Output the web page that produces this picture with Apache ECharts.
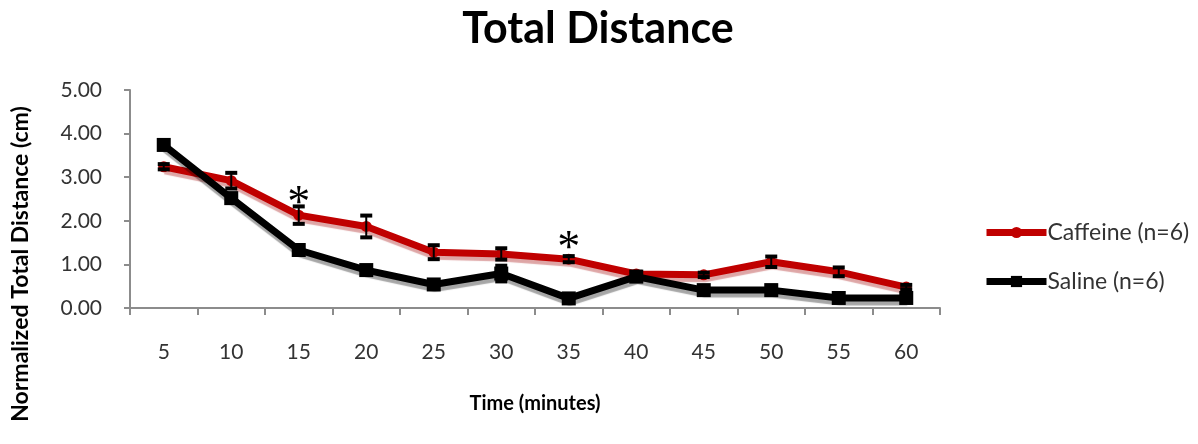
<!DOCTYPE html>
<html>
<head>
<meta charset="utf-8">
<script src="https://cdn.jsdelivr.net/npm/echarts@6/dist/echarts.min.js"></script>
<style>html,body{margin:0;padding:0;background:#fff}#c{width:1198px;height:444px}</style>
</head>
<body>
<div id="c"></div>
<script>
const categories = ['5','10','15','20','25','30','35','40','45','50','55','60'];
const caffeine = [3.24, 2.92, 2.13, 1.87, 1.28, 1.24, 1.12, 0.78, 0.76, 1.06, 0.83, 0.48];
const caffeineErr = [0.06, 0.18, 0.2, 0.25, 0.16, 0.13, 0.07, 0.05, 0.05, 0.12, 0.1, 0.05];
const saline = [3.74, 2.52, 1.33, 0.87, 0.54, 0.79, 0.22, 0.72, 0.41, 0.41, 0.23, 0.23];
const salineErr = [0.08, 0.1, 0.08, 0.08, 0.1, 0.18, 0.06, 0.07, 0.08, 0.1, 0.08, 0.06];
const sigCategories = ['15', '35'];
const sigValues = [2.6, 1.56];
const yTicks = [0, 1, 2, 3, 4, 5];

const FONT = 'Lato, "Open Sans", sans-serif';
const chart = echarts.init(document.getElementById('c'), null, {renderer: 'canvas'});

function errSeries(name, vals, errs, color, z) {
  return {
    type: 'custom',
    name: name + ' err',
    z: z,
    silent: true,
    data: vals.map((v, i) => [i, v - errs[i], v + errs[i]]),
    renderItem: function (params, api) {
      const x = api.value(0);
      const lo = api.coord([x, api.value(1)]);
      const hi = api.coord([x, api.value(2)]);
      const w = 6;
      return {
        type: 'group',
        children: [
          {type: 'line', shape: {x1: lo[0], y1: lo[1], x2: hi[0], y2: hi[1]}, style: {stroke: color, lineWidth: 2}},
          {type: 'line', shape: {x1: lo[0] - w, y1: lo[1], x2: lo[0] + w, y2: lo[1]}, style: {stroke: color, lineWidth: 4}},
          {type: 'line', shape: {x1: hi[0] - w, y1: hi[1], x2: hi[0] + w, y2: hi[1]}, style: {stroke: color, lineWidth: 4}}
        ]
      };
    }
  };
}

const labelShadow = {textShadowColor: 'rgba(0,0,0,0.3)', textShadowOffsetX: 1, textShadowOffsetY: 1};

const option = {
  backgroundColor: '#fff',
  animation: false,
  title: {
    text: 'Total Distance',
    left: 593, textAlign: 'center', top: 3,
    textStyle: Object.assign({fontFamily: FONT, fontSize: 43, fontWeight: 'bold', color: '#000'}, labelShadow)
  },
  grid: {left: 130, right: 258, top: 90, bottom: 136},
  legend: {
    orient: 'vertical', left: 978, top: 216, itemWidth: 60, itemHeight: 14, itemGap: 26,
    data: ['Caffeine (n=6)', 'Saline (n=6)'],
    lineStyle: {width: 7},
    textStyle: Object.assign({fontFamily: FONT, fontSize: 23, color: '#333', padding: [0, 0, 0, -4]}, labelShadow)
  },
  xAxis: {
    type: 'category', data: categories, boundaryGap: true,
    name: 'Time (minutes)', nameLocation: 'middle', nameGap: 86,
    nameTextStyle: Object.assign({fontFamily: FONT, fontSize: 20, fontWeight: 'bold', color: '#000'}, labelShadow),
    axisLine: {lineStyle: {color: '#8c8c8c', width: 2}},
    axisTick: {show: true, length: 7, alignWithLabel: false, lineStyle: {color: '#8c8c8c', width: 2}},
    axisLabel: Object.assign({margin: 34, fontFamily: FONT, fontSize: 21, color: '#333'}, labelShadow)
  },
  yAxis: {
    type: 'value', min: yTicks[0], max: yTicks[yTicks.length - 1], interval: 1,
    axisLine: {show: true, lineStyle: {color: '#8c8c8c', width: 2}},
    axisTick: {show: true, length: 6, lineStyle: {color: '#8c8c8c', width: 2}},
    splitLine: {show: false},
    axisLabel: Object.assign({margin: 28, fontFamily: FONT, fontSize: 21, color: '#333',
      formatter: v => v.toFixed(2)}, labelShadow)
  },
  graphic: [{
    type: 'text', x: 9, y: 264, rotation: Math.PI / 2,
    style: Object.assign({text: 'Normalized Total Distance (cm)', fontFamily: FONT, fontSize: 23, fontWeight: 'bold',
      fill: '#000', align: 'center', verticalAlign: 'top'}, labelShadow)
  }],
  series: [
    {
      name: 'Caffeine (n=6)', type: 'line', data: caffeine, z: 3,
      symbol: 'circle', symbolSize: 11, itemStyle: {color: '#c00000'},
      lineStyle: {color: '#c00000', width: 7, shadowColor: 'rgba(160,0,0,0.35)', shadowOffsetY: 4, shadowOffsetX: 1, shadowBlur: 1},
      markPoint: {
        symbol: 'circle', symbolSize: 1, itemStyle: {color: 'rgba(0,0,0,0)'},
        label: {show: true, formatter: '*', fontFamily: '"Liberation Serif", serif', fontSize: 46, color: '#000', offset: [0, 10]},
        data: sigCategories.map((c, i) => ({coord: [c, sigValues[i]]}))
      }
    },
    errSeries('Caffeine', caffeine, caffeineErr, '#000', 4),
    {
      name: 'Saline (n=6)', type: 'line', data: saline, z: 5,
      symbol: 'rect', symbolSize: 14, itemStyle: {color: '#000'},
      lineStyle: {color: '#000', width: 7, shadowColor: 'rgba(0,0,0,0.35)', shadowOffsetY: 4, shadowOffsetX: 1, shadowBlur: 1}
    },
    errSeries('Saline', saline, salineErr, '#000', 6)
  ]
};
chart.setOption(option);
</script>
</body>
</html>
